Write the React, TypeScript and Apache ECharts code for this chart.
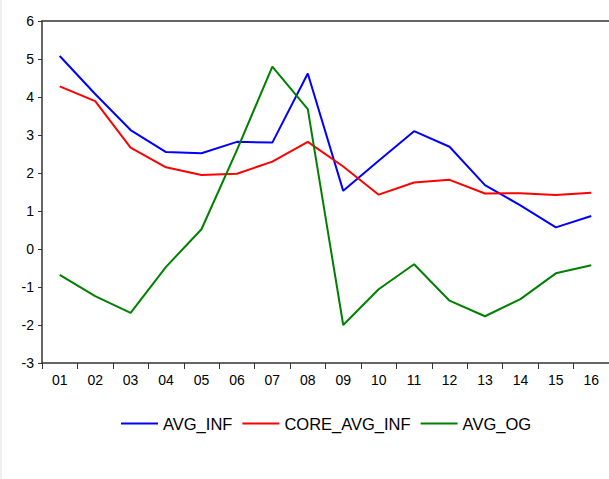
import React, { useEffect, useRef } from "react";
import * as echarts from "echarts";

const categories = ["01", "02", "03", "04", "05", "06", "07", "08", "09", "10", "11", "12", "13", "14", "15", "16"];
const avgInf = [5.08, 4.08, 3.13, 2.55, 2.52, 2.82, 2.8, 4.62, 1.53, 2.32, 3.1, 2.69, 1.68, 1.15, 0.57, 0.87];
const coreAvgInf = [4.28, 3.89, 2.67, 2.15, 1.95, 1.98, 2.3, 2.82, 2.17, 1.43, 1.75, 1.82, 1.46, 1.47, 1.42, 1.48];
const avgOg = [-0.68, -1.24, -1.68, -0.47, 0.52, 2.6, 4.8, 3.68, -2.0, -1.06, -0.4, -1.36, -1.77, -1.32, -0.64, -0.43];
const seriesNames = ["AVG_INF", "CORE_AVG_INF", "AVG_OG"];

const FONT = "'Liberation Sans', Arial, sans-serif";

export default function App() {
  const ref = useRef<HTMLDivElement>(null);
  useEffect(() => {
    if (!ref.current) return;
    const chart = echarts.init(ref.current, undefined, { renderer: "svg" });
    const axisLine = { show: true, onZero: false, lineStyle: { color: "#333", width: 1.5 } };
    chart.setOption({
      animation: false,
      backgroundColor: "#fff",
      textStyle: { fontFamily: FONT },
      graphic: [
        { type: "rect", left: 0, top: 0, shape: { width: 2, height: 479 }, style: { fill: "#f0f0f0" } },
      ],
      grid: { left: 42, top: 21, width: 573, bottom: 116 },
      legend: {
        top: 410,
        left: 116,
        icon: "rect",
        itemWidth: 37,
        itemHeight: 2,
        itemGap: 10,
        textStyle: { fontSize: 16.5, color: "#000", fontFamily: FONT },
        data: seriesNames,
      },
      xAxis: [
        {
          type: "category",
          data: categories,
          boundaryGap: true,
          axisLine,
          axisTick: { show: true, length: 6, lineStyle: { color: "#333" } },
          axisLabel: { fontSize: 14, color: "#000", margin: 10, fontFamily: FONT },
          splitLine: { show: false },
        },
        {
          type: "category",
          data: categories,
          position: "top",
          axisLine,
          axisTick: { show: false },
          axisLabel: { show: false },
          splitLine: { show: false },
        },
      ],
      yAxis: {
        type: "value",
        min: -3,
        max: 6,
        interval: 1,
        axisLine,
        axisTick: { show: true, length: 4, lineStyle: { color: "#333" } },
        axisLabel: { fontSize: 14, color: "#000", margin: 8, fontFamily: FONT },
        splitLine: { show: false },
      },
      series: [
        { name: seriesNames[0], type: "line", data: avgInf, symbol: "none", lineStyle: { color: "#0000ff", width: 2 }, itemStyle: { color: "#0000ff" } },
        { name: seriesNames[1], type: "line", data: coreAvgInf, symbol: "none", lineStyle: { color: "#ff0000", width: 2 }, itemStyle: { color: "#ff0000" } },
        { name: seriesNames[2], type: "line", data: avgOg, symbol: "none", lineStyle: { color: "#008000", width: 2 }, itemStyle: { color: "#008000" } },
      ],
    });
    return () => chart.dispose();
  }, []);
  return <div ref={ref} style={{ position: "fixed", left: 0, top: 0, width: 609, height: 479 }} />;
}
